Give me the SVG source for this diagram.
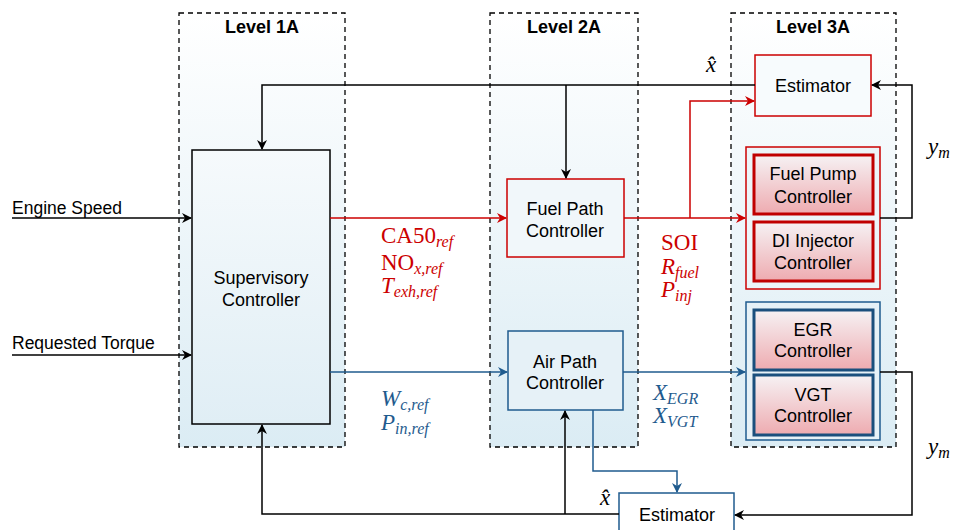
<svg xmlns="http://www.w3.org/2000/svg" width="954" height="530" viewBox="0 0 954 530">
<defs>
<linearGradient id="lvl" x1="0" y1="0" x2="0" y2="1">
<stop offset="0" stop-color="#ffffff"/>
<stop offset="1" stop-color="#dbecf4"/>
</linearGradient>
<linearGradient id="sup" x1="0" y1="0" x2="0" y2="1">
<stop offset="0" stop-color="#f6fafc"/>
<stop offset="1" stop-color="#e0eef5"/>
</linearGradient>
<linearGradient id="pink" x1="0" y1="0" x2="0" y2="1">
<stop offset="0" stop-color="#f6f2f4"/>
<stop offset="1" stop-color="#eeabb0"/>
</linearGradient>
<marker id="ak" viewBox="0 0 10 10" refX="9" refY="5" markerWidth="10" markerHeight="10" markerUnits="userSpaceOnUse" orient="auto"><path d="M0,0 L10,5 L0,10 L3,5 Z" fill="#000"/></marker>
<marker id="ar" viewBox="0 0 10 10" refX="9" refY="5" markerWidth="10" markerHeight="10" markerUnits="userSpaceOnUse" orient="auto"><path d="M0,0 L10,5 L0,10 L3,5 Z" fill="#cc0000"/></marker>
<marker id="ab" viewBox="0 0 10 10" refX="9" refY="5" markerWidth="10" markerHeight="10" markerUnits="userSpaceOnUse" orient="auto"><path d="M0,0 L10,5 L0,10 L3,5 Z" fill="#1f5b8e"/></marker>
</defs>
<style>
.lvl{fill:url(#lvl);stroke:#000;stroke-width:1.3;stroke-dasharray:5,4}
.lt{font-family:"Liberation Sans",Arial,sans-serif;font-weight:bold;font-size:18px;text-anchor:middle;fill:#000}
.nt{font-family:"Liberation Sans",Arial,sans-serif;font-size:18px;text-anchor:middle;fill:#000}
.in{font-family:"Liberation Sans",Arial,sans-serif;font-size:17.5px;fill:#000}
.m{font-family:"Liberation Serif","DejaVu Serif",serif;font-size:23px}
.i{font-style:italic}
.s{font-size:16px;font-style:italic}
.r{fill:#cc0000}
.b{fill:#1f5b8e}
.k{fill:#000}
.lk{fill:none;stroke:#000;stroke-width:1.5}
.lr{fill:none;stroke:#cc0000;stroke-width:1.5}
.lb{fill:none;stroke:#1f5b8e;stroke-width:1.5}
.ir{fill:url(#pink);stroke:#c00000;stroke-width:3}
.ib{fill:url(#pink);stroke:#1a4f7d;stroke-width:3}
</style>
<g id="level1a"><rect class="lvl" x="179" y="13" width="166" height="434"/><text class="lt" x="262" y="33">Level 1A</text></g>
<g id="level2a"><rect class="lvl" x="490" y="13" width="148" height="434"/><text class="lt" x="564" y="33">Level 2A</text></g>
<g id="level3a"><rect class="lvl" x="731" y="13" width="165" height="434"/><text class="lt" x="813" y="33">Level 3A</text></g>

<g id="supervisory"><rect x="192" y="150" width="138" height="274" fill="url(#sup)" stroke="#000" stroke-width="1.5"/><text class="nt" x="261" y="284">Supervisory</text><text class="nt" x="261" y="306">Controller</text></g>
<g id="fuelpath"><rect x="507" y="179" width="117" height="78" fill="#f1f7fa" stroke="#cc0000" stroke-width="1.5"/><text class="nt" x="565" y="215">Fuel Path</text><text class="nt" x="565" y="237">Controller</text></g>
<g id="airpath"><rect x="508" y="331" width="115" height="79" fill="#e6f1f7" stroke="#1f5b8e" stroke-width="1.5"/><text class="nt" x="565" y="368">Air Path</text><text class="nt" x="565" y="389">Controller</text></g>
<g id="estimator-top"><rect x="755" y="55" width="116" height="61" fill="#f7fbfd" stroke="#cc0000" stroke-width="1.5"/><text class="nt" x="813" y="92">Estimator</text></g>
<g id="fuel-group"><rect x="746" y="147" width="134" height="142" fill="#ecf5f9" stroke="#cc0000" stroke-width="1.5"/></g>
<g id="fuelpump"><rect class="ir" x="754" y="155" width="119" height="59"/><text class="nt" x="813" y="180">Fuel Pump</text><text class="nt" x="813" y="203">Controller</text></g>
<g id="diinjector"><rect class="ir" x="754" y="222" width="119" height="59"/><text class="nt" x="813" y="247">DI Injector</text><text class="nt" x="813" y="269">Controller</text></g>
<g id="air-group"><rect x="746" y="302" width="134" height="138" fill="#e6f1f7" stroke="#1f5b8e" stroke-width="1.5"/></g>
<g id="egr"><rect class="ib" x="754" y="310" width="119" height="60"/><text class="nt" x="813" y="336">EGR</text><text class="nt" x="813" y="357">Controller</text></g>
<g id="vgt"><rect class="ib" x="754" y="375" width="119" height="60"/><text class="nt" x="813" y="401">VGT</text><text class="nt" x="813" y="422">Controller</text></g>
<g id="estimator-bottom"><rect x="619" y="493" width="115" height="45" fill="#ffffff" stroke="#1f5b8e" stroke-width="1.5"/><text class="nt" x="677" y="521">Estimator</text></g>

<g id="connectors">
<path class="lk" d="M12,218 H191" marker-end="url(#ak)"/>
<path class="lk" d="M12,355 H191" marker-end="url(#ak)"/>
<path class="lr" d="M330,218 H506" marker-end="url(#ar)"/>
<path class="lr" d="M624,218 H745" marker-end="url(#ar)"/>
<path class="lr" d="M690,218 V101 H754" marker-end="url(#ar)"/>
<path class="lb" d="M330,372 H507" marker-end="url(#ab)"/>
<path class="lb" d="M623,372 H745" marker-end="url(#ab)"/>
<path class="lb" d="M593,410 V471 H677 V492" marker-end="url(#ab)"/>
<path class="lk" d="M755,85 H262 V149" marker-end="url(#ak)"/>
<path class="lk" d="M566,85 V178" marker-end="url(#ak)"/>
<path class="lk" d="M880,218 H912 V85 H872" marker-end="url(#ak)"/>
<path class="lk" d="M880,372 H912 V515 H735" marker-end="url(#ak)"/>
<path class="lk" d="M619,514 H262 V425" marker-end="url(#ak)"/>
<path class="lk" d="M565,514 V411" marker-end="url(#ak)"/>
</g>

<g id="labels">
<text class="in" x="12" y="214">Engine Speed</text>
<text class="in" x="12" y="349">Requested Torque</text>
<text class="m r" x="381" y="243">CA50<tspan class="s" dy="4">ref</tspan></text>
<text class="m r" x="381" y="270">NO<tspan class="s" dy="4">x,ref</tspan></text>
<text class="m r" x="381" y="293"><tspan class="i">T</tspan><tspan class="s" dy="4">exh,ref</tspan></text>
<text class="m r" x="661" y="250">SOI</text>
<text class="m r" x="661" y="274"><tspan class="i">R</tspan><tspan class="s" dy="4">fuel</tspan></text>
<text class="m r" x="661" y="297"><tspan class="i">P</tspan><tspan class="s" dy="4">inj</tspan></text>
<text class="m b" x="381" y="406"><tspan class="i">W</tspan><tspan class="s" dy="4">c,ref</tspan></text>
<text class="m b" x="381" y="430"><tspan class="i">P</tspan><tspan class="s" dy="4">in,ref</tspan></text>
<text class="m b" x="653" y="400"><tspan class="i">X</tspan><tspan class="s" dy="4">EGR</tspan></text>
<text class="m b" x="653" y="423"><tspan class="i">X</tspan><tspan class="s" dy="4">VGT</tspan></text>
<text class="m k i" x="706" y="72">x̂</text>
<text class="m k i" x="600" y="505">x̂</text>
<text class="m k" x="928" y="154"><tspan class="i">y</tspan><tspan class="s" dy="4">m</tspan></text>
<text class="m k" x="928" y="454"><tspan class="i">y</tspan><tspan class="s" dy="4">m</tspan></text>
</g>
</svg>
